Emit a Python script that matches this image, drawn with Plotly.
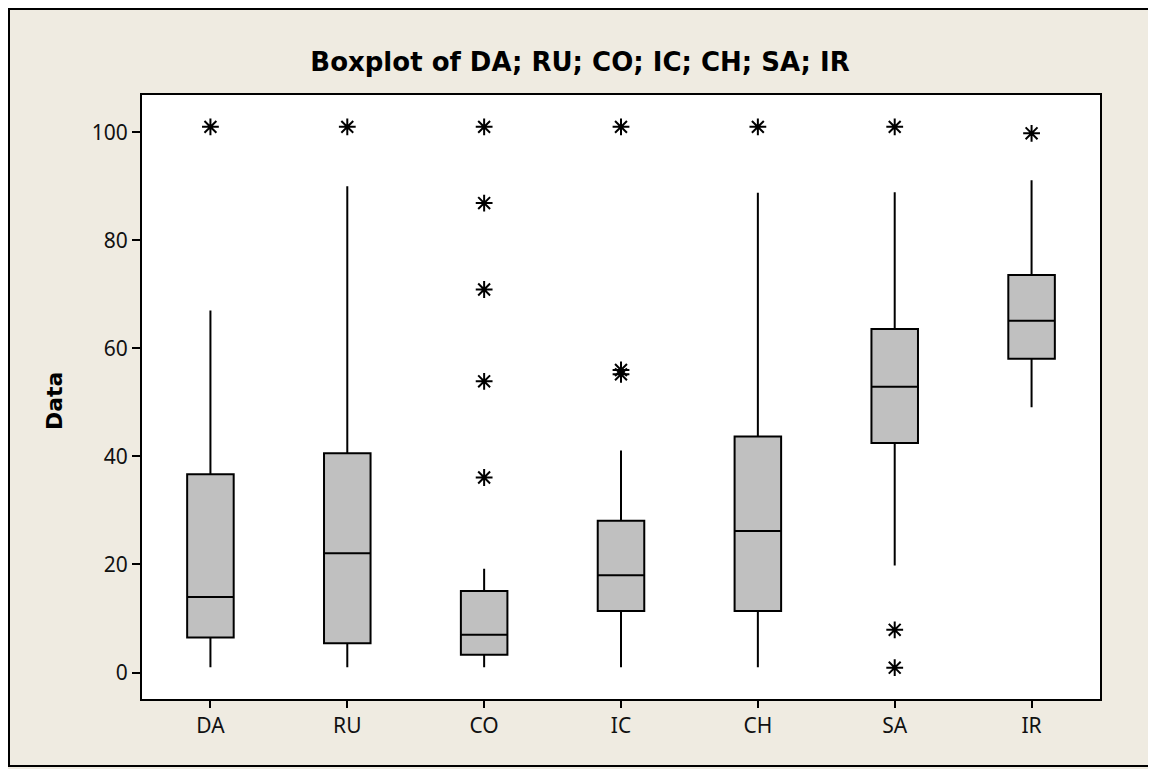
import plotly.graph_objects as go

categories = ["DA", "RU", "CO", "IC", "CH", "SA", "IR"]
q1 = [6.5, 5.4, 3.3, 11.4, 11.4, 42.5, 58.1]
median = [14.0, 22.1, 7.0, 18.0, 26.2, 52.9, 65.1]
q3 = [36.7, 40.6, 15.1, 28.1, 43.7, 63.6, 73.6]
lower_whisker = [1.0, 1.0, 1.0, 1.0, 1.0, 19.8, 49.1]
upper_whisker = [67.0, 90.0, 19.2, 41.1, 88.8, 88.9, 91.1]

outliers = {
    "DA": [101],
    "RU": [101],
    "CO": [101, 86.9, 70.9, 53.9, 36.1],
    "IC": [101, 56.0, 55.2],
    "CH": [101],
    "SA": [101, 7.9, 0.9],
    "IR": [99.8],
}

y_ticks = [0, 20, 40, 60, 80, 100]

fig = go.Figure()
fig.add_trace(go.Box(
    x=categories, q1=q1, median=median, q3=q3,
    lowerfence=lower_whisker, upperfence=upper_whisker,
    boxpoints=False, width=0.34, whiskerwidth=0,
    fillcolor="#C0C0C0", line=dict(color="black", width=2),
    showlegend=False, hoverinfo="skip",
))

ox, oy = [], []
for c in categories:
    for v in outliers[c]:
        ox.append(c)
        oy.append(v)
fig.add_trace(go.Scatter(
    x=ox, y=oy, mode="markers",
    marker=dict(symbol="asterisk-open", size=14, color="black",
                line=dict(color="black", width=2)),
    showlegend=False,
))

# page has an 8px body margin; compensate so the plot area lands where it should
OFF = 8
W, H = 1156 - OFF, 769 - OFF
L, R, T, B = 142 - OFF, 56, 95 - OFF, 70
pw, ph = W - L - R, H - T - B

def px2paper_x(px):
    return (px - OFF - L) / pw

def px2paper_y(py):
    return (H - B - (py - OFF)) / ph

fig.add_shape(type="rect", xref="paper", yref="paper",
              x0=px2paper_x(9), x1=px2paper_x(1153),
              y0=px2paper_y(766), y1=px2paper_y(9),
              line=dict(color="black", width=2), layer="below")

fig.add_annotation(text="<b>Data</b>", xref="paper", yref="paper",
                   x=px2paper_x(54), y=px2paper_y(401),
                   xanchor="center", yanchor="middle", textangle=-90,
                   showarrow=False,
                   font=dict(family="DejaVu Sans", size=22, color="black"))

fig.update_layout(
    width=W, height=H,
    margin=dict(l=L, r=R, t=T, b=B, pad=0),
    paper_bgcolor="#EFEBE1", plot_bgcolor="white",
    font=dict(family="Noto Sans", size=21, color="#111111"),
    title=dict(text="<b>Boxplot of DA; RU; CO; IC; CH; SA; IR</b>",
               x=px2paper_x(580), xanchor="center", xref="paper",
               y=1 - (62 - OFF) / H, yanchor="middle",
               font=dict(family="DejaVu Sans", size=26, color="black")),
    xaxis=dict(type="category", categoryorder="array", categoryarray=categories,
               range=[-0.5, 6.5], showgrid=False, zeroline=False,
               showline=True, linecolor="black", linewidth=2, mirror=True,
               ticks="outside", ticklen=7, tickwidth=2, tickcolor="black",
               tickfont=dict(size=21)),
    yaxis=dict(range=[-4.9, 106.9], tickvals=y_ticks, showgrid=False, zeroline=False,
               showline=True, linecolor="black", linewidth=2, mirror=True,
               ticks="outside", ticklen=8, tickwidth=2, tickcolor="black",
               tickfont=dict(size=21)),
)

fig.write_html("out.html")
